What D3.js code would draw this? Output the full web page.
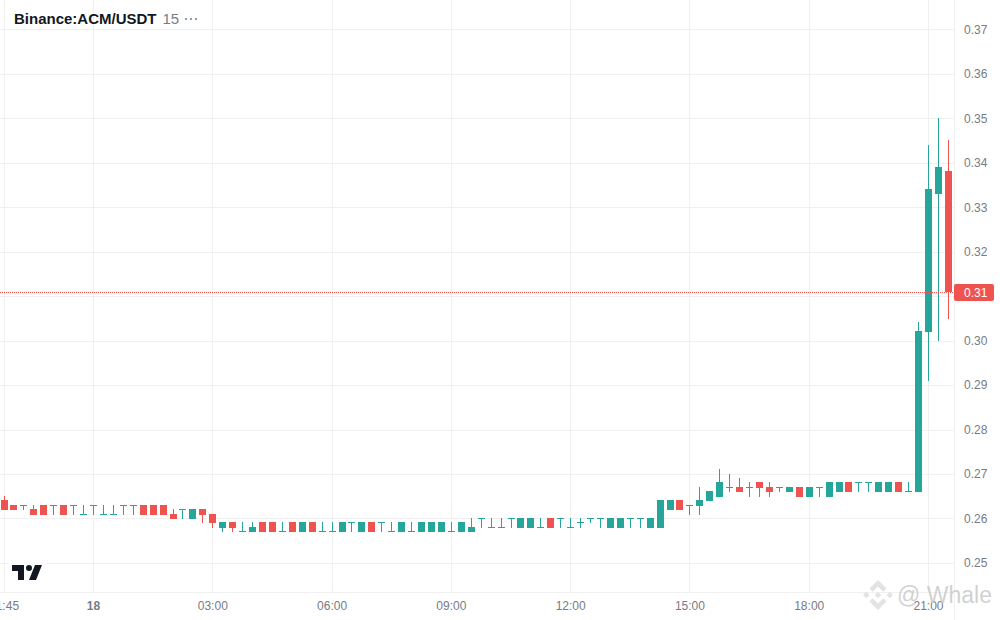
<!DOCTYPE html>
<html>
<head>
<meta charset="utf-8">
<script src="https://cdn.jsdelivr.net/npm/d3@7"></script>
<style>
  html, body { margin: 0; background: #fff; overflow: hidden; }
  text { font-family: "Liberation Sans", Arial, sans-serif; }
</style>
</head>
<body>
<div id="chart"></div>
<script>
// candles, one every 15 minutes starting at 21:45
var opens = [
  .264,.263,.263,.262,.263,.263,.263,.263,.261,.263,
  .261,.261,.263,.263,.263,.263,.263,.261,.262,.260,
  .262,.261,.258,.259,.257,.257,.259,.259,.257,.259,
  .257,.259,.257,.257,.257,.259,.257,.259,.259,.257,
  .257,.257,.257,.257,.257,.257,.257,.257,.260,.258,
  .258,.260,.258,.258,.258,.260,.260,.258,.259,.260,
  .260,.258,.258,.260,.260,.258,.258,.262,.264,.263,
  .263,.264,.265,.267,.267,.267,.268,.267,.267,.266,
  .267,.265,.267,.265,.266,.268,.268,.268,.266,.266,
  .268,.266,.266,.302,.333,.338];
var highs = [
  .265,.263,.263,.263,.263,.263,.263,.263,.263,.263,
  .263,.263,.263,.263,.263,.263,.263,.262,.262,.262,
  .262,.261,.259,.259,.259,.259,.259,.259,.259,.259,
  .259,.259,.259,.259,.259,.259,.259,.259,.259,.259,
  .259,.259,.259,.259,.259,.259,.259,.260,.260,.260,
  .260,.260,.260,.260,.260,.260,.260,.260,.260,.260,
  .260,.260,.260,.260,.260,.260,.264,.264,.264,.263,
  .267,.266,.271,.270,.269,.268,.268,.268,.267,.267,
  .267,.267,.267,.268,.268,.268,.268,.268,.268,.268,
  .268,.268,.304,.344,.350,.345];
var lows = [
  .262,.262,.262,.261,.261,.261,.261,.261,.261,.261,
  .261,.261,.261,.261,.261,.261,.261,.260,.260,.260,
  .259,.258,.257,.257,.257,.257,.257,.257,.257,.257,
  .257,.257,.257,.257,.257,.257,.257,.257,.257,.257,
  .257,.257,.257,.257,.257,.257,.257,.257,.258,.258,
  .258,.258,.258,.258,.258,.258,.258,.258,.258,.259,
  .258,.258,.258,.258,.258,.258,.258,.262,.262,.261,
  .261,.264,.265,.266,.266,.265,.265,.265,.266,.266,
  .265,.265,.265,.265,.266,.266,.266,.266,.266,.266,
  .266,.266,.266,.291,.300,.305];
var closes = [
  .262,.262,.263,.261,.261,.263,.261,.263,.261,.263,
  .261,.261,.263,.263,.261,.261,.261,.260,.262,.262,
  .261,.259,.259,.258,.257,.258,.257,.257,.257,.257,
  .259,.257,.257,.257,.259,.259,.259,.257,.259,.257,
  .259,.257,.259,.259,.259,.257,.259,.258,.260,.258,
  .258,.260,.260,.260,.258,.258,.260,.258,.259,.260,
  .260,.260,.260,.260,.260,.260,.264,.264,.262,.263,
  .264,.266,.268,.267,.266,.267,.267,.266,.267,.267,
  .265,.267,.267,.268,.268,.266,.268,.268,.268,.268,
  .266,.266,.302,.334,.339,.311];

var priceTicks = [.25,.26,.27,.28,.29,.30,.31,.32,.33,.34,.35,.36,.37];
// candle index of each time label
var timeTickIndex = [0, 9, 21, 33, 45, 57, 69, 81, 93];
var timeTickLabels = ["21:45", "18", "03:00", "06:00", "09:00", "12:00", "15:00", "18:00", "21:00"];
var lastPrice = .3109;
var lastPriceTick = .31;
var lastPriceLabel = "0.31";

var width = 1000, height = 620;
var plotRight = 954, plotBottom = 592;
var upColor = "#26a69a", downColor = "#ef5350", gridColor = "#f0f0f0", textColor = "#787b86";

var svg = d3.select("#chart")
  .append("svg")
    .attr("width", width)
    .attr("height", height)
    .style("display", "block");

var x = d3.scaleLinear().domain([9, 93]).range([93, 928]);
var y = d3.scaleLinear().domain([.25, .37]).range([562.95, 29.45]);

function crisp(v) { return Math.round(v) + 0.5; }

// grid
svg.append("g").selectAll("line")
  .data(priceTicks)
  .enter().append("line")
    .attr("x1", 0).attr("x2", plotRight)
    .attr("y1", function(d) { return crisp(y(d)); })
    .attr("y2", function(d) { return crisp(y(d)); })
    .attr("stroke", gridColor);

svg.append("g").selectAll("line")
  .data(timeTickIndex)
  .enter().append("line")
    .attr("y1", 0).attr("y2", plotBottom)
    .attr("x1", function(d) { return crisp(x(d)); })
    .attr("x2", function(d) { return crisp(x(d)); })
    .attr("stroke", gridColor);

// right axis, the last price label takes the place of its tick
var yAxis = svg.append("g")
  .attr("transform", "translate(" + plotRight + ",0)")
  .call(d3.axisRight(y)
    .tickValues(priceTicks.filter(function(d) { return d != lastPriceTick; }))
    .tickFormat(d3.format(".2f")).tickSize(0).tickPadding(10));
yAxis.select(".domain").attr("d", "M0.5,0V" + height).attr("stroke", gridColor);
yAxis.selectAll("text")
  .attr("fill", textColor)
  .style("font-size", "12px")
  .style("font-family", '"Liberation Sans", Arial, sans-serif');

// bottom axis
var xAxis = svg.append("g")
  .attr("transform", "translate(0," + plotBottom + ")")
  .call(d3.axisBottom(x)
    .tickValues(timeTickIndex)
    .tickFormat(function(d, i) { return timeTickLabels[i]; })
    .tickSize(0).tickPadding(9));
xAxis.select(".domain").attr("d", "M0,0.5H" + plotRight).attr("stroke", gridColor);
xAxis.selectAll("text")
  .attr("fill", textColor)
  .style("font-size", "12px")
  .style("font-weight", function(d, i) { return timeTickLabels[i] == "18" ? "bold" : "normal"; })
  .style("font-family", '"Liberation Sans", Arial, sans-serif');

// candles
var candles = svg.append("g").selectAll("g")
  .data(opens)
  .enter().append("g")
    .attr("fill", function(d, i) { return closes[i] >= d ? upColor : downColor; })
    .attr("stroke", function(d, i) { return closes[i] >= d ? upColor : downColor; });

candles.append("line")
  .attr("x1", function(d, i) { return crisp(x(i)); })
  .attr("x2", function(d, i) { return crisp(x(i)); })
  .attr("y1", function(d, i) { return Math.floor(y(highs[i])); })
  .attr("y2", function(d, i) { return Math.ceil(y(lows[i])); });

candles.append("rect")
  .attr("stroke", "none")
  .attr("x", function(d, i) { return Math.round(x(i)) - 3; })
  .attr("width", 7)
  .attr("y", function(d, i) { return Math.floor(y(Math.max(d, closes[i]))); })
  .attr("height", function(d, i) {
    return Math.max(1, Math.ceil(y(Math.min(d, closes[i]))) - Math.floor(y(Math.max(d, closes[i]))));
  });

// last price line and label
svg.append("line")
  .attr("x1", 0).attr("x2", plotRight)
  .attr("y1", crisp(y(lastPrice))).attr("y2", crisp(y(lastPrice)))
  .attr("stroke", downColor)
  .attr("stroke-dasharray", "1,1");

svg.append("rect")
  .attr("x", plotRight).attr("width", 40)
  .attr("y", Math.round(y(lastPrice)) - 8).attr("height", 17)
  .attr("rx", 2)
  .attr("fill", downColor);

svg.append("text")
  .attr("x", plotRight + 10).attr("y", y(lastPrice) + 4.5)
  .attr("fill", "#fff")
  .style("font-size", "12px")
  .text(lastPriceLabel);

// header
var title = svg.append("text")
  .attr("x", 14).attr("y", 24)
  .style("font-size", "15px");
title.append("tspan").attr("font-weight", "bold").attr("fill", "#131722").text("Binance:ACM/USDT");
title.append("tspan").attr("dx", 6).attr("fill", textColor).text("15");

svg.append("g").selectAll("circle")
  .data([186, 191, 196])
  .enter().append("circle")
    .attr("cx", function(d) { return d; })
    .attr("cy", 19)
    .attr("r", 1)
    .attr("fill", textColor);

// tradingview logo
svg.append("rect")
  .attr("x", 8).attr("y", 561).attr("width", 38).attr("height", 23)
  .attr("fill", "#fff").attr("fill-opacity", 0.8);
svg.append("path")
  .attr("transform", "translate(10,559)")
  .attr("fill", "#131722")
  .attr("d", "M14 6H2v6h6v9h6V6Zm12 15h-7l6-15h7l-6 15Zm-7-9a3 3 0 1 0 0-6 3 3 0 0 0 0 6Z");

// watermark
var mark = svg.append("g")
  .attr("transform", "translate(878,595) scale(1.07)")
  .attr("fill", "#e3e3e3");
mark.append("path")
  .attr("d", "M0,-14L8,-6L5,-3L0,-8L-5,-3L-8,-6ZM0,14L8,6L5,3L0,8L-5,3L-8,6ZM-14,0L-11,-3L-8,0L-11,3ZM14,0L11,-3L8,0L11,3ZM0,-3L3,0L0,3L-3,0Z");
svg.append("text")
  .attr("x", 897).attr("y", 603)
  .attr("fill", "#c9c9c9")
  .attr("fill-opacity", 0.85)
  .style("font-size", "23px")
  .text("@ Whale");
</script>
</body>
</html>
